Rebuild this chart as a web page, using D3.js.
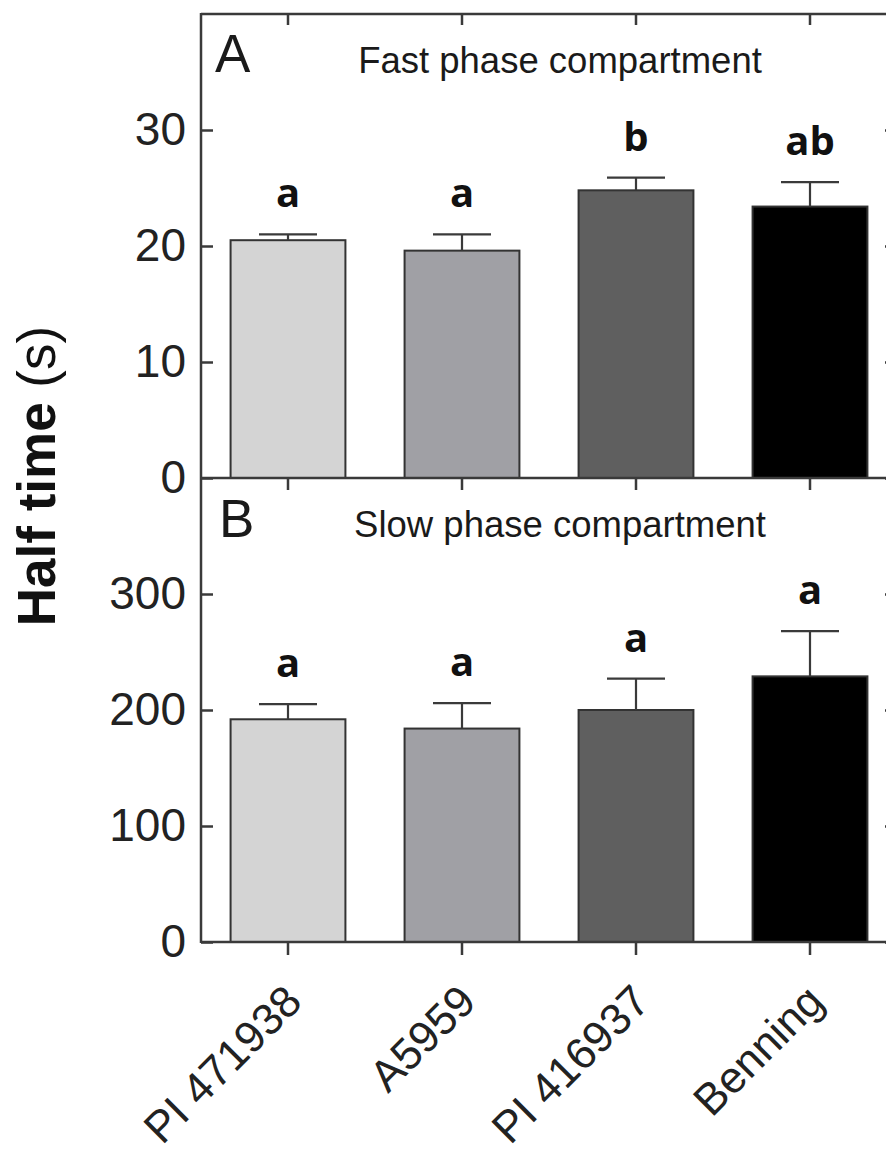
<!DOCTYPE html>
<html>
<head>
<meta charset="utf-8">
<script src="https://d3js.org/d3.v7.min.js"></script>
<style>
    body { margin: 0; background: #fff; }
    .tick text { font-family: "Liberation Sans", Arial, sans-serif; fill: #222; }
</style>
</head>
<body>
<script>
//chart data
var categories = ["PI 471938", "A5959", "PI 416937", "Benning"];
var barColors = ["#d4d4d4", "#a0a0a5", "#5f5f5f", "#000000"];

//panel A, fast phase compartment
var fastMean = [20.5, 19.6, 24.8, 23.4];
var fastErr = [0.5, 1.4, 1.1, 2.1];
var fastLetters = ["a", "a", "b", "ab"];

//panel B, slow phase compartment
var slowMean = [192, 184, 200, 229];
var slowErr = [13, 22, 27, 39];
var slowLetters = ["a", "a", "a", "a"];

var fastTicks = [0, 10, 20, 30];
var slowTicks = [0, 100, 200, 300];

setChart();

function setChart(){

    var width = 886,
        height = 1157;

    var left = 201,
        right = 897, //right frame sits just past the picture edge
        top = 14,
        mid = 478,
        bottom = 942;

    var svg = d3.select("body")
        .append("svg")
        .attr("width", width)
        .attr("height", height);

    var x = d3.scaleBand()
        .domain(categories)
        .range([left, right])
        .paddingInner(0.34)
        .paddingOuter(0.17);

    var yFast = d3.scaleLinear()
        .domain([0, 40])
        .range([mid, top]);

    var ySlow = d3.scaleLinear()
        .domain([0, 400])
        .range([bottom, mid]);

    drawPanel(svg, x, yFast, fastMean, fastErr, fastLetters, fastTicks, left, right);
    drawPanel(svg, x, ySlow, slowMean, slowErr, slowLetters, slowTicks, left, right);

    //frame lines
    var lineColor = "#3a3a3a";
    svg.append("line")
        .attr("x1", left).attr("x2", left)
        .attr("y1", top - 1).attr("y2", bottom + 1)
        .attr("stroke", lineColor).attr("stroke-width", 2.5);
    [top, mid, bottom].forEach(function(yy){
        svg.append("line")
            .attr("x1", left).attr("x2", right)
            .attr("y1", yy).attr("y2", yy)
            .attr("stroke", lineColor).attr("stroke-width", 2.5);
    });
    svg.append("line")
        .attr("x1", right).attr("x2", right)
        .attr("y1", top).attr("y2", bottom)
        .attr("stroke", lineColor).attr("stroke-width", 2.5);

    //category ticks on top border, middle and bottom
    var xTop = svg.append("g")
        .attr("transform", "translate(0," + top + ")")
        .call(d3.axisTop(x).tickSize(-11).tickFormat(""));
    var xMid = svg.append("g")
        .attr("transform", "translate(0," + mid + ")")
        .call(d3.axisBottom(x).tickSize(12).tickFormat(""));
    var xBot = svg.append("g")
        .attr("transform", "translate(0," + bottom + ")")
        .call(d3.axisBottom(x).tickSize(13).tickFormat(""));
    [xTop, xMid, xBot].forEach(function(g){
        g.select(".domain").remove();
        g.selectAll(".tick line").attr("stroke", lineColor).attr("stroke-width", 2.5);
    });

    //rotated category labels
    svg.selectAll(".catLabel")
        .data(categories)
        .enter()
        .append("text")
        .attr("class", "catLabel")
        .attr("transform", function(d){
            return "translate(" + (x(d) + x.bandwidth() / 2 + 16) + "," + (bottom + 62) + ") rotate(-45)";
        })
        .attr("text-anchor", "end")
        .style("font-family", "'Liberation Sans', Arial, sans-serif")
        .style("font-size", "44px")
        .attr("fill", "#222")
        .text(function(d){ return d; });

    //panel letters and titles
    var panelText = [
        {t: "A", x: 215, y: 72, size: 53, anchor: "start"},
        {t: "Fast phase compartment", x: 560, y: 73, size: 36.5, anchor: "middle"},
        {t: "B", x: 219, y: 537, size: 53, anchor: "start"},
        {t: "Slow phase compartment", x: 560, y: 537, size: 36.5, anchor: "middle"}
    ];
    svg.selectAll(".panelText")
        .data(panelText)
        .enter()
        .append("text")
        .attr("class", "panelText")
        .attr("x", function(d){ return d.x; })
        .attr("y", function(d){ return d.y; })
        .attr("text-anchor", function(d){ return d.anchor; })
        .style("font-family", "'Liberation Sans', Arial, sans-serif")
        .style("font-size", function(d){ return d.size + "px"; })
        .attr("fill", "#1a1a1a")
        .text(function(d){ return d.t; });

    //y axis title
    var yTitle = svg.append("text")
        .attr("transform", "translate(55," + 476 + ") rotate(-90)")
        .attr("text-anchor", "middle")
        .style("font-family", "'Liberation Sans', Arial, sans-serif")
        .style("font-size", "53px")
        .attr("fill", "#111");
    yTitle.append("tspan").style("font-weight", "bold").text("Half time ");
    yTitle.append("tspan").text("(s)");
};

function drawPanel(svg, x, y, means, errs, letters, ticks, left, right){

    var lineColor = "#3a3a3a";
    var capHalf = 29;

    //bars
    svg.append("g")
        .selectAll("rect")
        .data(means)
        .enter()
        .append("rect")
        .attr("x", function(d, i){ return x(categories[i]); })
        .attr("y", function(d){ return y(d); })
        .attr("width", x.bandwidth())
        .attr("height", function(d){ return y(0) - y(d); })
        .attr("fill", function(d, i){ return barColors[i]; })
        .attr("stroke", "#333")
        .attr("stroke-width", 2);

    //upper error bars
    var err = svg.append("g")
        .selectAll("g")
        .data(means)
        .enter()
        .append("g");
    err.append("line")
        .attr("x1", function(d, i){ return x(categories[i]) + x.bandwidth() / 2; })
        .attr("x2", function(d, i){ return x(categories[i]) + x.bandwidth() / 2; })
        .attr("y1", function(d){ return y(d); })
        .attr("y2", function(d, i){ return y(d + errs[i]); })
        .attr("stroke", lineColor).attr("stroke-width", 2.2);
    err.append("line")
        .attr("x1", function(d, i){ return x(categories[i]) + x.bandwidth() / 2 - capHalf; })
        .attr("x2", function(d, i){ return x(categories[i]) + x.bandwidth() / 2 + capHalf; })
        .attr("y1", function(d, i){ return y(d + errs[i]); })
        .attr("y2", function(d, i){ return y(d + errs[i]); })
        .attr("stroke", lineColor).attr("stroke-width", 2.2);

    //significance letters
    svg.append("g")
        .selectAll("text")
        .data(letters)
        .enter()
        .append("text")
        .attr("x", function(d, i){ return x(categories[i]) + x.bandwidth() / 2; })
        .attr("y", function(d, i){ return y(means[i] + errs[i]) - 27; })
        .attr("text-anchor", "middle")
        .style("font-family", "'Open Sans', sans-serif")
        .style("font-weight", "bold")
        .style("font-size", "40px")
        .attr("fill", "#111")
        .text(function(d){ return d; });

    //left axis with inward ticks
    var yl = svg.append("g")
        .attr("transform", "translate(" + left + ",0)")
        .call(d3.axisLeft(y).tickValues(ticks).tickSize(-12).tickPadding(15));
    yl.select(".domain").remove();
    yl.selectAll(".tick line").attr("stroke", lineColor).attr("stroke-width", 2.5);
    yl.selectAll(".tick text").style("font-size", "46px");

    //right axis, ticks only
    var yr = svg.append("g")
        .attr("transform", "translate(" + right + ",0)")
        .call(d3.axisRight(y).tickValues(ticks).tickSize(-12).tickFormat(""));
    yr.select(".domain").remove();
    yr.selectAll(".tick line").attr("stroke", lineColor).attr("stroke-width", 2.5);
};
</script>
</body>
</html>
